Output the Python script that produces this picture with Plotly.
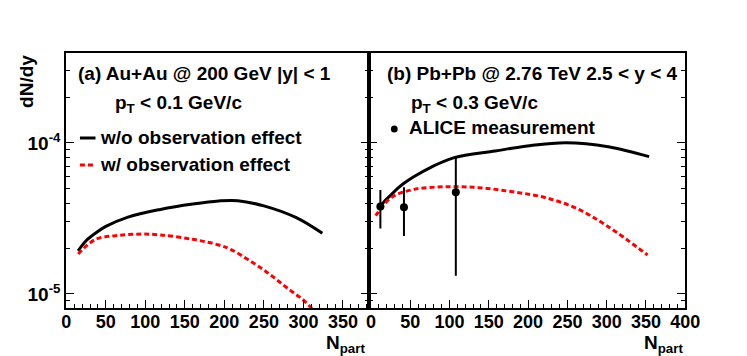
"""dN/dy versus N_part for Au+Au and Pb+Pb, with and without observation effect."""

import plotly.graph_objects as go

# ---- data -------------------------------------------------------------------
# (a) Au+Au @ 200 GeV
auau_npart_wo = [15, 25, 37, 50, 78, 119, 160, 193, 217, 250, 291, 324]
auau_dndy_wo = [1.93e-5, 2.25e-5, 2.53e-5, 2.80e-5, 3.23e-5, 3.63e-5,
                3.94e-5, 4.13e-5, 4.15e-5, 3.83e-5, 3.20e-5, 2.52e-5]
auau_npart_w = [15, 37, 62, 90, 119, 160, 193, 209, 250, 283, 299, 308, 316]
auau_dndy_w = [1.84e-5, 2.30e-5, 2.43e-5, 2.49e-5, 2.46e-5, 2.30e-5,
               2.11e-5, 1.96e-5, 1.44e-5, 1.06e-5, 9.2e-6, 8.3e-6, 7.4e-6]

# (b) Pb+Pb @ 2.76 TeV
pbpb_npart_wo = [10, 17, 24, 34, 42, 55, 75, 106, 158, 199, 248, 302, 354]
pbpb_dndy_wo = [3.70e-5, 4.10e-5, 4.45e-5, 5.00e-5, 5.41e-5, 6.00e-5, 6.85e-5,
                8.00e-5, 8.85e-5, 9.55e-5, 1.005e-4, 9.45e-5, 8.12e-5]
pbpb_npart_w = [6, 9, 26, 55, 96, 137, 178, 220, 261, 302, 352]
pbpb_dndy_w = [3.30e-5, 3.46e-5, 4.36e-5, 4.93e-5, 5.13e-5, 5.06e-5,
               4.77e-5, 4.37e-5, 3.70e-5, 2.79e-5, 1.81e-5]

# ALICE measurement
alice_npart = [12, 42, 108]
alice_dndy = [3.79e-5, 3.75e-5, 4.71e-5]
alice_hi = [4.89e-5, 5.09e-5, 8.12e-5]
alice_lo = [2.71e-5, 2.42e-5, 1.32e-5]

# axis ticks
y_major = [1e-5, 1e-4]
y_major_text = ["10<sup>-5</sup>", "10<sup>-4</sup>"]
y_minor = [8e-6, 9e-6, 2e-5, 3e-5, 4e-5, 5e-5, 6e-5, 7e-5, 8e-5, 9e-5, 2e-4, 3e-4]

W, H = 747, 356
FONT = "Liberation Sans"
BOLD = {"family": FONT, "size": 19, "color": "black", "weight": "bold"}


def px(x):
    return x / W


def py(y):
    return (H - y) / H


solid = {"color": "black", "width": 3}
dashed = {"color": "#ff0000", "width": 3, "dash": "5px,3px"}

fig = go.Figure()
fig.add_trace(go.Scatter(x=auau_npart_wo, y=auau_dndy_wo, mode="lines",
                         line={**solid, "shape": "spline"}, xaxis="x", yaxis="y"))
fig.add_trace(go.Scatter(x=auau_npart_w, y=auau_dndy_w, mode="lines",
                         line={**dashed, "shape": "spline"}, xaxis="x", yaxis="y"))
fig.add_trace(go.Scatter(x=pbpb_npart_wo, y=pbpb_dndy_wo, mode="lines",
                         line={**solid, "shape": "spline"}, xaxis="x2", yaxis="y2"))
fig.add_trace(go.Scatter(x=pbpb_npart_w, y=pbpb_dndy_w, mode="lines",
                         line={**dashed, "shape": "spline"}, xaxis="x2", yaxis="y2"))
fig.add_trace(go.Scatter(
    x=alice_npart, y=alice_dndy, mode="markers",
    marker={"color": "black", "size": 8},
    error_y={"type": "data", "symmetric": False,
             "array": [h - v for h, v in zip(alice_hi, alice_dndy)],
             "arrayminus": [v - lo for v, lo in zip(alice_dndy, alice_lo)],
             "color": "black", "thickness": 2, "width": 0},
    xaxis="x2", yaxis="y2"))

xcommon = dict(
    showline=True, linecolor="black", linewidth=2, mirror=True,
    ticks="inside", ticklen=8, tickwidth=1, tickcolor="black", dtick=50,
    minor={"dtick": 10, "ticks": "inside", "ticklen": 4, "tickcolor": "black"},
    showgrid=False, zeroline=False, ticklabelstandoff=-4,
    tickfont={"family": FONT, "size": 18, "color": "black", "weight": "bold"},
)
ycommon = dict(
    type="log", range=[-5.093, -3.404], domain=[py(308), py(53)],
    showline=True, linecolor="black", linewidth=2, mirror="ticks",
    ticks="inside", ticklen=8, tickwidth=1, tickcolor="black",
    tickvals=y_major, ticktext=y_major_text,
    minor={"tickvals": y_minor, "ticks": "inside", "ticklen": 4, "tickcolor": "black"},
    showgrid=False, zeroline=False,
    tickfont={"family": FONT, "size": 19, "color": "black", "weight": "bold"},
)

fig.update_layout(
    width=W, height=H,
    margin={"l": 0, "r": 0, "t": 0, "b": 0},
    plot_bgcolor="white", paper_bgcolor="white",
    showlegend=False,
    xaxis={**xcommon, "domain": [px(63), px(374)], "range": [0, 383], "anchor": "y"},
    yaxis={**ycommon, "anchor": "x"},
    xaxis2={**xcommon, "domain": [px(374), px(699)], "range": [-2.5, 400], "anchor": "y2"},
    yaxis2={**ycommon, "anchor": "x2", "showticklabels": False},
)

ann = []


def text(x, y, s, **kw):
    ann.append({"x": px(x), "y": py(y), "xref": "paper", "yref": "paper",
                "text": s, "showarrow": False, "xanchor": "left",
                "yanchor": "middle", "font": BOLD, **kw})


text(73, 73, "(a) Au+Au @ 200 GeV |y| &lt; 1")
text(111, 104, "p<sub>T</sub> &lt; 0.1 GeV/c")
text(96, 138, "w/o observation effect")
text(96, 164, "w/ observation effect")
text(390, 73, "(b) Pb+Pb @ 2.76 TeV 2.5 &lt; y &lt; 4")
text(415, 104, "p<sub>T</sub> &lt; 0.3 GeV/c")
text(413, 127, "ALICE measurement")
ann.append({"x": px(22), "y": py(53), "xref": "paper", "yref": "paper",
            "text": "dN/dy", "textangle": -90, "showarrow": False,
            "xanchor": "center", "yanchor": "top", "font": BOLD})
for xr in (371, 698):
    ann.append({"x": px(xr), "y": py(331), "xref": "paper", "yref": "paper",
                "text": "N<sub>part</sub>", "showarrow": False, "borderpad": 0,
                "xanchor": "right", "yanchor": "top",
                "font": {**BOLD, "size": 19}})
fig.update_layout(annotations=ann)

# legend samples
fig.add_shape(type="line", xref="paper", yref="paper",
              x0=px(77), x1=px(93), y0=py(138), y1=py(138),
              line={"color": "black", "width": 3})
fig.add_shape(type="line", xref="paper", yref="paper",
              x0=px(77), x1=px(93), y0=py(165), y1=py(165),
              line={"color": "#ff0000", "width": 3, "dash": "5px,3px"})
fig.add_shape(type="circle", xref="paper", yref="paper",
              x0=px(396.5), x1=px(403.5), y0=py(125.5), y1=py(132.5),
              fillcolor="black", line={"color": "black", "width": 0})

# the page's default body margin would push the figure 8px down/right
fig.write_html("out.html", config={"displayModeBar": False},
               post_script="document.body.style.margin = '0';")
